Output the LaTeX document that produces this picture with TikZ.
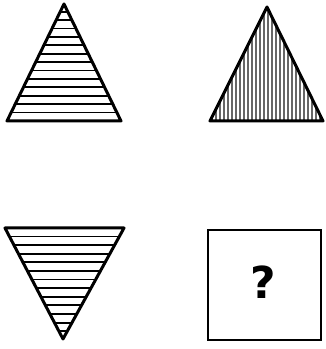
\documentclass[tikz,border=0pt]{standalone}
\usepackage{fontspec}
\newfontfamily\qfont{DejaVu Sans}
\begin{document}
\begin{tikzpicture}[x=1pt,y=1pt,
  outline/.style={line width=3pt,line join=round},
  hatch/.style={line width=1.8pt},
  vhatch/.style={line width=1.3pt,black!60}]
\useasboundingbox (0,0) rectangle (325,349);
% top-left triangle, horizontal hatching
\coordinate (a1) at (64,345);
\coordinate (a2) at (7,228);
\coordinate (a3) at (121,228);
\begin{scope}
  \clip (a1) -- (a2) -- (a3) -- cycle;
  \foreach \i in {1,...,13} {
    \draw[hatch] (0,{228+8.4*\i}) -- (130,{228+8.4*\i});
  }
\end{scope}
\draw[outline] (a1) -- (a2) -- (a3) -- cycle;
% top-right triangle, vertical hatching
\coordinate (b1) at (267,342);
\coordinate (b2) at (210,228);
\coordinate (b3) at (323,228);
\begin{scope}
  \clip (b1) -- (b2) -- (b3) -- cycle;
  \foreach \i in {0,...,28} {
    \draw[vhatch] ({212+4*\i},228) -- ({212+4*\i},345);
  }
\end{scope}
\draw[outline] (b1) -- (b2) -- (b3) -- cycle;
% bottom-left inverted triangle, horizontal hatching
\coordinate (c1) at (5,121);
\coordinate (c2) at (124,121);
\coordinate (c3) at (63,10);
\begin{scope}
  \clip (c1) -- (c2) -- (c3) -- cycle;
  \foreach \i in {1,...,12} {
    \draw[hatch] (0,{121-8.6*\i}) -- (130,{121-8.6*\i});
  }
\end{scope}
\draw[outline] (c1) -- (c2) -- (c3) -- cycle;
% answer box
\node[draw,line width=2.4pt,minimum width=113pt,minimum height=110pt,inner sep=0pt] (box) at (264.5,64) {};
\node[font=\qfont\bfseries\fontsize{44}{44}\selectfont,inner sep=0pt] (q) at (263,67) {?};
\end{tikzpicture}
\end{document}
